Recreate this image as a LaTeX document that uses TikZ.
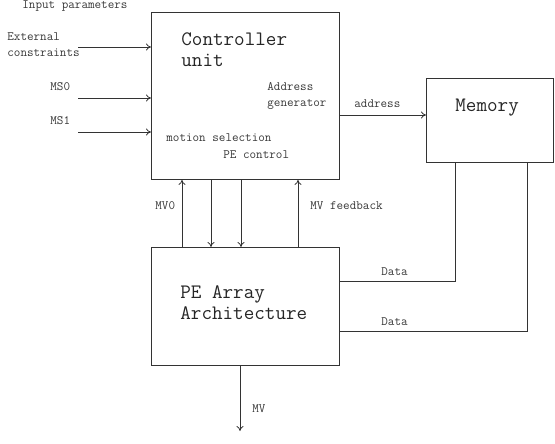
\documentclass[tikz,border=0pt]{standalone}
\usepackage{fontspec}
\usetikzlibrary{arrows.meta}
\begin{document}
\begin{tikzpicture}[x=1bp,y=-1bp,
  line width=0.8pt,
  ln/.style={draw=black!80},
  box/.style={draw=black!80,line width=0.9pt,rectangle,anchor=north west,inner sep=0pt},
  arr/.style={ln,-{To[length=5pt,width=7pt]}},
  big/.style={font=\ttfamily\fontsize{20.6}{21}\selectfont,text=black!85,inner sep=0pt,align=left,anchor=west},
  small/.style={font=\ttfamily\fontsize{12.8}{16}\selectfont,text=black!78,inner sep=0pt,align=left,anchor=west}]
\useasboundingbox (0,0) rectangle (555,444);
% boxes
\node[box,minimum width=188bp,minimum height=167bp] (ctrl) at (151,12) {};
\node[box,minimum width=127bp,minimum height=84bp] (mem) at (426,78) {};
\node[box,minimum width=188bp,minimum height=118bp] (pe) at (151,247) {};
% box texts
\node[big] (ctrltxt) at (181,50) {Controller\\unit};
\node[big] (memtxt) at (455,108) {Memory};
\node[big] (petxt) at (180,302.5) {PE Array\\Architecture};
\node[small] (addrgen) at (267,96) {Address\\generator};
\node[small] (motsel) at (166,138) {motion selection};
\node[small] (pectl) at (223,155) {PE control};
% inputs
\node[small] (inpar) at (22,6) {Input parameters};
\node[small] (ext) at (7,45) {External\\constraints};
\node[small] (ms0) at (50,87) {MS0};
\node[small] (ms1) at (50,121) {MS1};
\coordinate (e0) at (78,47);
\coordinate (m0) at (78,98);
\coordinate (m1) at (78,132);
\draw[arr] (e0) -- (ctrl.west |- e0);
\draw[arr] (m0) -- (ctrl.west |- m0);
\draw[arr] (m1) -- (ctrl.west |- m1);
% address
\draw[arr] (ctrl.east |- 0,115) -- (mem.west |- 0,115);
\node[small] (addr) at (354,104) {address};
% vertical links
\draw[arr] (pe.north -| 182,0) -- (ctrl.south -| 182,0);
\draw[arr] (ctrl.south -| 211,0) -- (pe.north -| 211,0);
\draw[arr] (ctrl.south -| 241,0) -- (pe.north -| 241,0);
\draw[arr] (pe.north -| 298,0) -- (ctrl.south -| 298,0);
\node[small] (mv0) at (155,206) {MV0};
\node[small] (mvfb) at (310,206) {MV feedback};
% data
\draw[ln] (mem.south -| 455,0) |- (pe.east |- 0,281);
\draw[ln] (mem.south -| 527,0) |- (pe.east |- 0,331);
\node[small] (d1) at (381,272) {Data};
\node[small] (d2) at (381,322) {Data};
% MV out
\coordinate (mvend) at (240,431);
\draw[arr] (pe.south -| mvend) -- (mvend);
\node[small] (mv) at (252,409) {MV};
\end{tikzpicture}
\end{document}
